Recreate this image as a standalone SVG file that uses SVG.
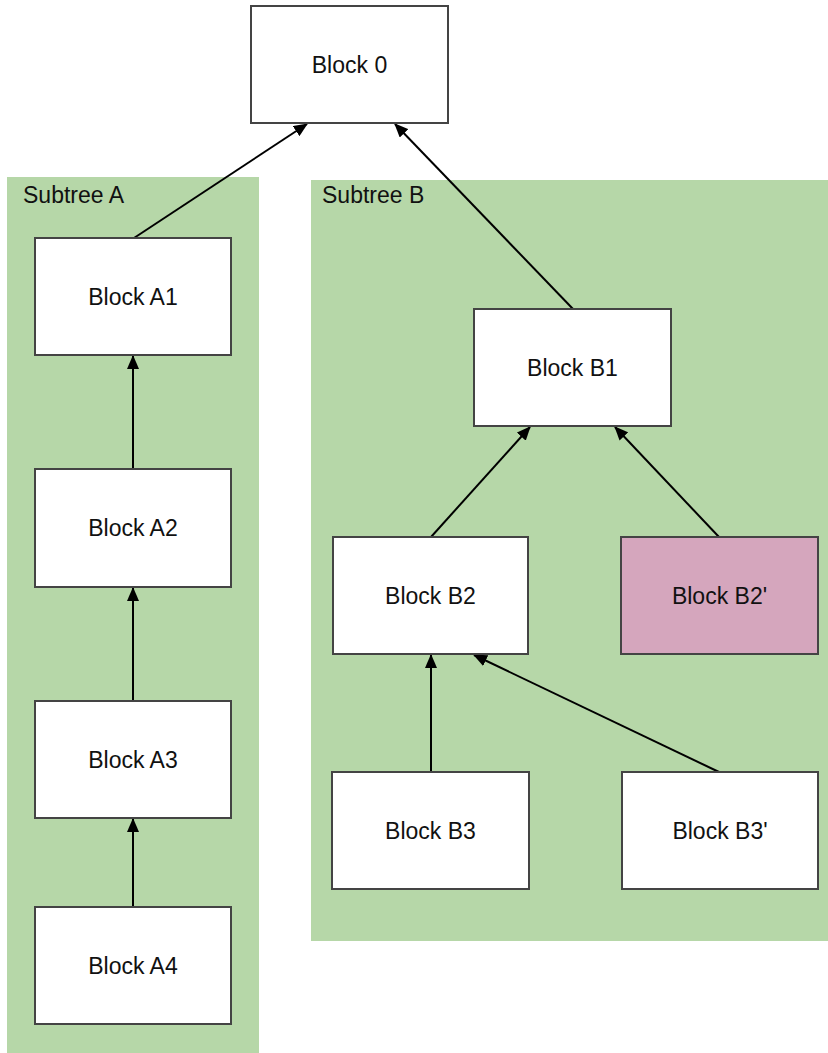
<svg xmlns="http://www.w3.org/2000/svg" width="828" height="1053" viewBox="0 0 828 1053">
  <style>
    .subtree { fill: #b6d7a8; }
    .block { fill: #ffffff; stroke: #444444; stroke-width: 2; }
    .block.alt { fill: #d5a6bd; }
    .label { font-family: "Liberation Sans", Arial, Helvetica, sans-serif; font-size: 23px; fill: #111111; }
    .mid { text-anchor: middle; }
    .edge { stroke: #000000; stroke-width: 2; fill: none; marker-end: url(#arrow); }
  </style>
  <defs>
    <marker id="arrow" markerUnits="userSpaceOnUse" markerWidth="14" markerHeight="12" viewBox="0 0 14 12" refX="13" refY="6" orient="auto">
      <path d="M0,0 L14,6 L0,12 Z" fill="#000000"/>
    </marker>
  </defs>

  <rect width="828" height="1053" fill="#ffffff"/>

  <!-- subtree backgrounds -->
  <g id="subtree-a">
    <rect class="subtree" x="7" y="177" width="252" height="876"/>
    <text class="label" x="23" y="203">Subtree A</text>
  </g>
  <g id="subtree-b">
    <rect class="subtree" x="311" y="180" width="517" height="761"/>
    <text class="label" x="322" y="203">Subtree B</text>
  </g>

  <!-- connectors: child -> parent -->
  <g id="connectors">
    <line class="edge" x1="134" y1="238" x2="307" y2="124"/>
    <line class="edge" x1="573" y1="309" x2="395" y2="124"/>
    <line class="edge" x1="133" y1="469" x2="133" y2="356"/>
    <line class="edge" x1="133" y1="701" x2="133" y2="588"/>
    <line class="edge" x1="133" y1="907" x2="133" y2="819"/>
    <line class="edge" x1="431" y1="537" x2="530" y2="427"/>
    <line class="edge" x1="719" y1="537" x2="615" y2="427"/>
    <line class="edge" x1="431" y1="772" x2="431" y2="655"/>
    <line class="edge" x1="719" y1="772" x2="474" y2="655"/>
  </g>

  <!-- blocks -->
  <g id="block-0">
    <rect class="block" x="251" y="6" width="197" height="117"/>
    <text class="label mid" x="349.5" y="73">Block 0</text>
  </g>
  <g id="block-a1">
    <rect class="block" x="35" y="238" width="196" height="117"/>
    <text class="label mid" x="133" y="305">Block A1</text>
  </g>
  <g id="block-a2">
    <rect class="block" x="35" y="469" width="196" height="118"/>
    <text class="label mid" x="133" y="536">Block A2</text>
  </g>
  <g id="block-a3">
    <rect class="block" x="35" y="701" width="196" height="117"/>
    <text class="label mid" x="133" y="768">Block A3</text>
  </g>
  <g id="block-a4">
    <rect class="block" x="35" y="907" width="196" height="117"/>
    <text class="label mid" x="133" y="974">Block A4</text>
  </g>
  <g id="block-b1">
    <rect class="block" x="474" y="309" width="197" height="117"/>
    <text class="label mid" x="572.5" y="376">Block B1</text>
  </g>
  <g id="block-b2">
    <rect class="block" x="333" y="537" width="195" height="117"/>
    <text class="label mid" x="430.5" y="604">Block B2</text>
  </g>
  <g id="block-b2p">
    <rect class="block alt" x="621" y="537" width="197" height="117"/>
    <text class="label mid" x="719.5" y="604">Block B2'</text>
  </g>
  <g id="block-b3">
    <rect class="block" x="332" y="772" width="197" height="117"/>
    <text class="label mid" x="430.5" y="839">Block B3</text>
  </g>
  <g id="block-b3p">
    <rect class="block" x="622" y="772" width="196" height="117"/>
    <text class="label mid" x="720" y="839">Block B3'</text>
  </g>
</svg>
